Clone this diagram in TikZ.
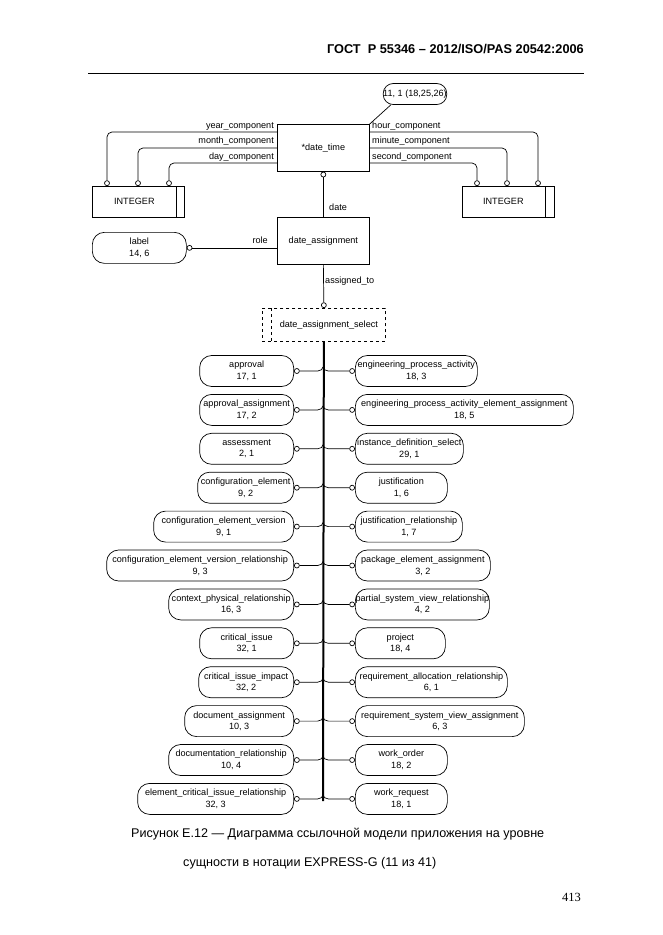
\documentclass[tikz,border=0pt]{standalone}
\usepackage{fontspec}
\setmainfont{Liberation Sans}
\newfontfamily\pgnumfont{Liberation Serif}
\newcommand{\dg}{\fontsize{9.1}{11.6}\selectfont}
\begin{document}
\begin{tikzpicture}[x=1pt,y=-1pt,
  ln/.style={line width=0.7pt},
  ent/.style={draw, line width=0.7pt, minimum width=92pt, minimum height=47pt, font=\dg, inner sep=0pt},
  intbox/.style={draw, line width=0.7pt, minimum width=92pt, minimum height=31pt, inner sep=0pt},
  bub/.style={draw, line width=0.7pt, rounded corners=12pt, minimum height=31pt, align=center, font=\dg, inner sep=0pt},
  oc/.style={circle, draw, fill=white, line width=0.7pt, inner sep=0pt, minimum size=5pt},
  lab/.style={font=\dg, inner sep=0pt},
  hdr/.style={font=\fontsize{12.75}{15}\selectfont\bfseries, inner sep=0pt},
  captxt/.style={font=\fontsize{12.6}{15}\selectfont, inner sep=0pt}]
\useasboundingbox (0,0) rectangle (662,935);

% header
\node[hdr, anchor=base east] (hd) at (584,53) {ГОСТ\ \ Р 55346 – 2012/ISO/PAS 20542:2006};
\coordinate (r1) at (88,73);
\coordinate (r2) at (584,73);
\draw[line width=0.8pt] (r1) -- (r2);

% date_time and page reference
\node[ent, anchor=north west] (dt) at (277,124) {*date\_time};
\node[draw, line width=0.7pt, rounded corners=10pt, minimum width=62pt, minimum height=21pt, inner sep=0pt, font=\dg] (pr) at (415,94) {11, 1 (18,25,26)};
\draw[ln] ([xshift=8pt]pr.south west) -- (dt.north east);

% INTEGER boxes
\node[intbox, anchor=north west] (intL) at (92,186) {};
\draw[ln] ([xshift=-8pt]intL.north east) -- ([xshift=-8pt]intL.south east);
\node[lab] (intLt) at ([xshift=-4pt]intL.center) {INTEGER};
\node[intbox, anchor=north west] (intR) at (462,186) {};
\draw[ln] ([xshift=-9pt]intR.north east) -- ([xshift=-9pt]intR.south east);
\node[lab] (intRt) at ([xshift=-5pt]intR.center) {INTEGER};

% left attributes
\node[oc, anchor=south] (cY) at (107,186) {};
\node[oc, anchor=south] (cM) at (138,186) {};
\node[oc, anchor=south] (cDy) at (169,186) {};
\draw[ln, rounded corners=5pt] ([yshift=-8pt]dt.north west) -| (cY.north);
\draw[ln, rounded corners=5pt] ([yshift=-24pt]dt.north west) -| (cM.north);
\draw[ln, rounded corners=5pt] ([yshift=-39pt]dt.north west) -| (cDy.north);
\node[lab, anchor=base east] (tY) at (274,128) {year\_component};
\node[lab, anchor=base east] (tM) at (274,143.5) {month\_component};
\node[lab, anchor=base east] (tDy) at (274,159) {day\_component};

% right attributes
\node[oc, anchor=south] (cH) at (538,186) {};
\node[oc, anchor=south] (cMi) at (507,186) {};
\node[oc, anchor=south] (cS) at (477,186) {};
\draw[ln, rounded corners=5pt] ([yshift=-8pt]dt.north east) -| (cH.north);
\draw[ln, rounded corners=5pt] ([yshift=-24pt]dt.north east) -| (cMi.north);
\draw[ln, rounded corners=5pt] ([yshift=-39pt]dt.north east) -| (cS.north);
\node[lab, anchor=base west] (tH) at (372,128) {hour\_component};
\node[lab, anchor=base west] (tMi) at (372,143.5) {minute\_component};
\node[lab, anchor=base west] (tS) at (372,159) {second\_component};

% date_assignment
\node[ent, anchor=north west] (da) at (277,217) {date\_assignment};
\node[oc, anchor=north] (cD) at (dt.south) {};
\draw[ln] (cD.south) -- (da.north);
\node[lab, anchor=base west] (tD) at (329,210) {date};

\node[bub, minimum width=94pt, anchor=north west] (lbl) at (92,232) {label\\14, 6};
\node[oc, anchor=west] (cR) at (lbl.east) {};
\draw[ln] (cR.east) -- (da.west |- cR.east);
\node[lab, anchor=base east] (tR) at (268,243) {role};

% select
\node[draw, dashed, line width=0.7pt, minimum width=123pt, minimum height=33pt, anchor=north west, inner sep=0pt] (sel) at (262,308) {};
\draw[ln, dashed] ([xshift=9pt]sel.north west) -- ([xshift=9pt]sel.south west);
\node[lab] (selt) at ([xshift=5pt]sel.center) {date\_assignment\_select};
\node[oc, anchor=south] (cA) at (sel.north) {};
\draw[ln] (da.south) -- (cA.north);
\node[lab, anchor=base west] (tA) at (325,283) {assigned\_to};

% trunk
\coordinate (tEnd) at (323,801);
\draw[line width=2pt] (sel.south) -- (tEnd);

% left column
\foreach \i/\nm/\nb/\lx in {
  1/approval/{17, 1}/200,
  2/approval\_assignment/{17, 2}/200,
  3/assessment/{2, 1}/200,
  4/configuration\_element/{9, 2}/198,
  5/configuration\_element\_version/{9, 1}/154,
  6/configuration\_element\_version\_relationship/{9, 3}/107,
  7/context\_physical\_relationship/{16, 3}/169,
  8/critical\_issue/{32, 1}/200,
  9/critical\_issue\_impact/{32, 2}/199,
  10/document\_assignment/{10, 3}/185,
  11/documentation\_relationship/{10, 4}/169,
  12/element\_critical\_issue\_relationship/{32, 3}/138}
{
  \pgfmathsetmacro{\yy}{371+38.9*(\i-1)}
  \node[bub, minimum width={294-\lx}, anchor=east] (L\i) at (294,\yy) {\nm\\\nb};
  \node[oc, anchor=west] (cL\i) at (L\i.east) {};
  \coordinate (tL\i) at (323,\yy-4);
  \draw[ln] (cL\i.east) -- ++(18,0) .. controls +(3,0) and +(0,2) .. (tL\i);
}

% right column
\foreach \i/\nm/\nb/\rx in {
  1/engineering\_process\_activity/{18, 3}/477,
  2/engineering\_process\_activity\_element\_assignment/{18, 5}/573,
  3/instance\_definition\_select/{29, 1}/463,
  4/justification/{1, 6}/447,
  5/justification\_relationship/{1, 7}/462,
  6/package\_element\_assignment/{3, 2}/490,
  7/partial\_system\_view\_relationship/{4, 2}/489,
  8/project/{18, 4}/445,
  9/requirement\_allocation\_relationship/{6, 1}/507,
  10/requirement\_system\_view\_assignment/{6, 3}/524,
  11/work\_order/{18, 2}/447,
  12/work\_request/{18, 1}/447}
{
  \pgfmathsetmacro{\yy}{371+38.9*(\i-1)}
  \node[bub, minimum width={\rx-355}, anchor=west] (R\i) at (355,\yy) {\nm\\\nb};
  \node[oc, anchor=east] (cR\i) at (R\i.west) {};
  \coordinate (tR\i) at (323,\yy-4);
  \draw[ln] (cR\i.west) -- ++(-21,0) .. controls +(-3,0) and +(0,2) .. (tR\i);
}

% caption
\node[captxt, anchor=base west] (c1) at (131,837) {Рисунок Е.12 — Диаграмма ссылочной модели приложения на уровне};
\node[captxt, anchor=base west] (c2) at (183,866) {сущности в нотации EXPRESS-G (11 из 41)};
\node[font=\pgnumfont\fontsize{12.5}{14}\selectfont, anchor=base east, inner sep=0pt] (pn) at (581,901) {413};
\end{tikzpicture}
\end{document}
